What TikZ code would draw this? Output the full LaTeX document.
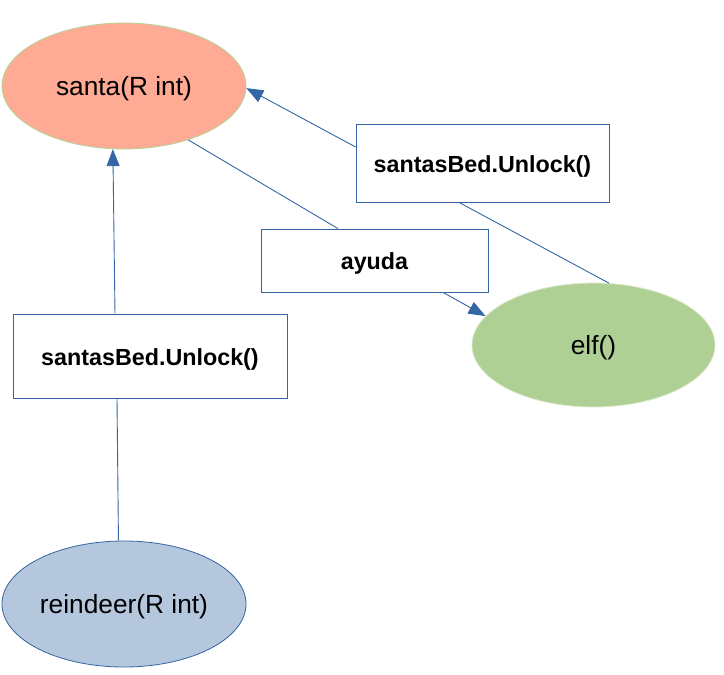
\documentclass[tikz,border=0pt]{standalone}
\usepackage{fontspec}
\setmainfont{Liberation Sans}
\usetikzlibrary{shapes.geometric,arrows.meta}
\definecolor{lineblue}{HTML}{3465A4}
\definecolor{santafill}{HTML}{FFAA95}
\definecolor{santaborder}{HTML}{B3D596}
\definecolor{elffill}{HTML}{AFD095}
\definecolor{elfborder}{HTML}{DDE8CB}
\definecolor{reinfill}{HTML}{B4C7DC}
\newcommand{\lowertxt}[1]{\raisebox{-3pt}[\height][\depth]{#1}}
\tikzset{
  ell/.style={ellipse, inner sep=0pt, minimum width=244pt, minimum height=126pt, line width=0.8pt, font=\fontsize{26.3}{31}\selectfont},
  callbox/.style={rectangle, draw=lineblue, line width=0.8pt, fill=white, inner sep=0pt, font=\fontsize{23.3}{28}\selectfont\bfseries},
  conn/.style={draw=lineblue, line width=0.9pt},
  arr/.style={conn, -{Triangle[length=17pt,width=13pt]}, lineblue}
}
\begin{document}
\begin{tikzpicture}[x=1pt,y=-1pt]
\useasboundingbox (0,0) rectangle (724,675);
\node[ell, fill=santafill, draw=santaborder] (santa) at (124,86) {\lowertxt{santa(R int)}};
\node[ell, fill=elffill, draw=elfborder, minimum width=243pt, minimum height=124pt] (elf) at (593.5,345) {\lowertxt{elf()}};
\node[ell, fill=reinfill, draw=lineblue] (rein) at (124,604) {\lowertxt{reindeer(R int)}};
\node[callbox, minimum width=253pt, minimum height=78pt] (trbox) at (482.5,163) {\lowertxt{santasBed.Unlock()}};
\node[callbox, minimum width=227pt, minimum height=63pt] (ayuda) at (374.5,260.5) {\lowertxt{ayuda}};
\node[callbox, minimum width=274pt, minimum height=84pt] (lbox) at (150,356) {\lowertxt{santasBed.Unlock()}};
% reindeer -> santa
\draw[conn] (rein.95.4) -- ([xshift=-33pt]lbox.south);
\draw[arr] ([xshift=-35pt]lbox.north) -- (santa.-100);
% elf -> santa
\draw[conn] (elf.76) -- ([xshift=-23.5pt]trbox.south);
\draw[arr] ([yshift=16pt]trbox.west) -- (santa.-1);
% santa -> elf (ayuda)
\draw[conn] (santa.-40) -- ([xshift=-36.5pt]ayuda.north);
\draw[arr] ([xshift=68.5pt]ayuda.south) -- (elf.165.8);
\end{tikzpicture}
\end{document}
